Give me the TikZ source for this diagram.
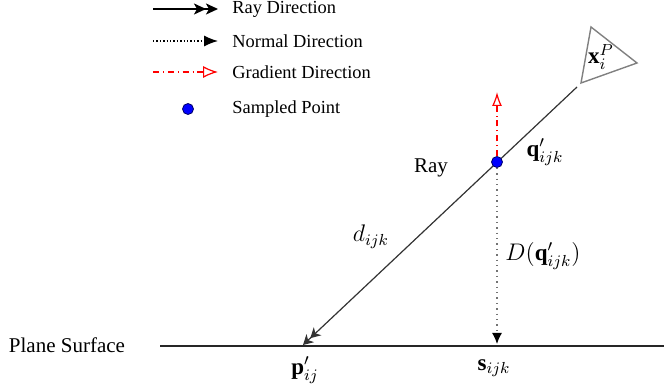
\documentclass[tikz,border=0pt]{standalone}
\usepackage{fontspec}
\setmainfont{Liberation Serif}
\usetikzlibrary{arrows.meta,positioning}

\begin{document}
\begin{tikzpicture}[x=0.5pt,y=-0.5pt,>=Latex,font=\fontsize{10.5}{12}\selectfont]
\tikzstyle{raydir}=[draw=black!80,line width=0.6pt,-{Stealth[length=5pt,width=5.5pt,inset=1.5pt]Stealth[length=5pt,width=5.5pt,inset=1.5pt]}]
\tikzstyle{normaldir}=[draw=black!55,dotted,line width=0.7pt,-{Latex[length=5.5pt,width=5pt,black]}]
\tikzstyle{graddir}=[draw=red,dash dot,line width=0.6pt,-{Latex[open,length=7pt,width=5pt]}]
\tikzstyle{sampled}=[circle,fill=blue,draw=blue!40!black,inner sep=0pt,minimum size=5.5pt]
\tikzstyle{legtext}=[anchor=west,inner sep=0pt,font=\fontsize{9.2}{11}\selectfont]
\tikzstyle{mlbl}=[font=\fontsize{11.5}{13}\selectfont]
\useasboundingbox (0,0) rectangle (664,389);

% legend
\coordinate (l1a) at (153,9);   \coordinate (l1b) at (218,9);
\coordinate (l2a) at (153,41);  \coordinate (l2b) at (218,41);
\coordinate (l3a) at (153,72);  \coordinate (l3b) at (218,72);
\draw[raydir,black,line width=0.8pt,-{Stealth[length=6pt,width=5.5pt,inset=1.5pt]Stealth[length=6pt,width=5.5pt,inset=1.5pt]}] (l1a) -- (l1b);
\draw[normaldir,black,densely dotted,line width=0.6pt,-{Latex[length=7pt,width=5.5pt]}] (l2a) -- (l2b);
\draw[graddir,-{Latex[open,length=7.5pt,width=6pt]}] (l3a) -- (l3b);
\node[sampled] (ldot) at (188,109) {};
\node[legtext] (t1) at (232,9) {Ray Direction};
\node[legtext] (t2) at (232,41) {Normal Direction};
\node[legtext] (t3) at (232,72) {Gradient Direction};
\node[legtext] (t4) at (232,109) {Sampled Point};

% plane
\node (plane) at (67,345) {Plane Surface};
\coordinate (pl0) at (160,346);
\coordinate (pl1) at (664,346);
\draw[line width=1pt,black!85] (pl0) -- (pl1);

% camera and ray
\coordinate (cam) at (577,87);
\coordinate (p) at (303,345);
\coordinate (s) at (497,344);
\draw[gray,line width=0.7pt] (591,27) -- (637,63) -- (581,83) -- cycle;
\node[mlbl,inner sep=0pt] (x) at (601,57) {$\mathbf{x}_i^P$};
\draw[raydir] (cam) -- (p);
\node[sampled] (q) at (497,162) {};
\draw[graddir] (q) -- (497,92);
\draw[normaldir] (q) -- (s);

% labels
\node[mlbl] (ql) at (545,152) {$\mathbf{q}'_{ijk}$};
\node (ray) at (431,168) {Ray};
\node[mlbl] (d) at (371,237) {$d_{ijk}$};
\node[mlbl] (Dq) at (543,256) {$D(\mathbf{q}'_{ijk})$};
\node[mlbl] (pl) at (305,370) {$\mathbf{p}'_{ij}$};
\node[mlbl] (sl) at (494,368) {$\mathbf{s}_{ijk}$};
\end{tikzpicture}
\end{document}
